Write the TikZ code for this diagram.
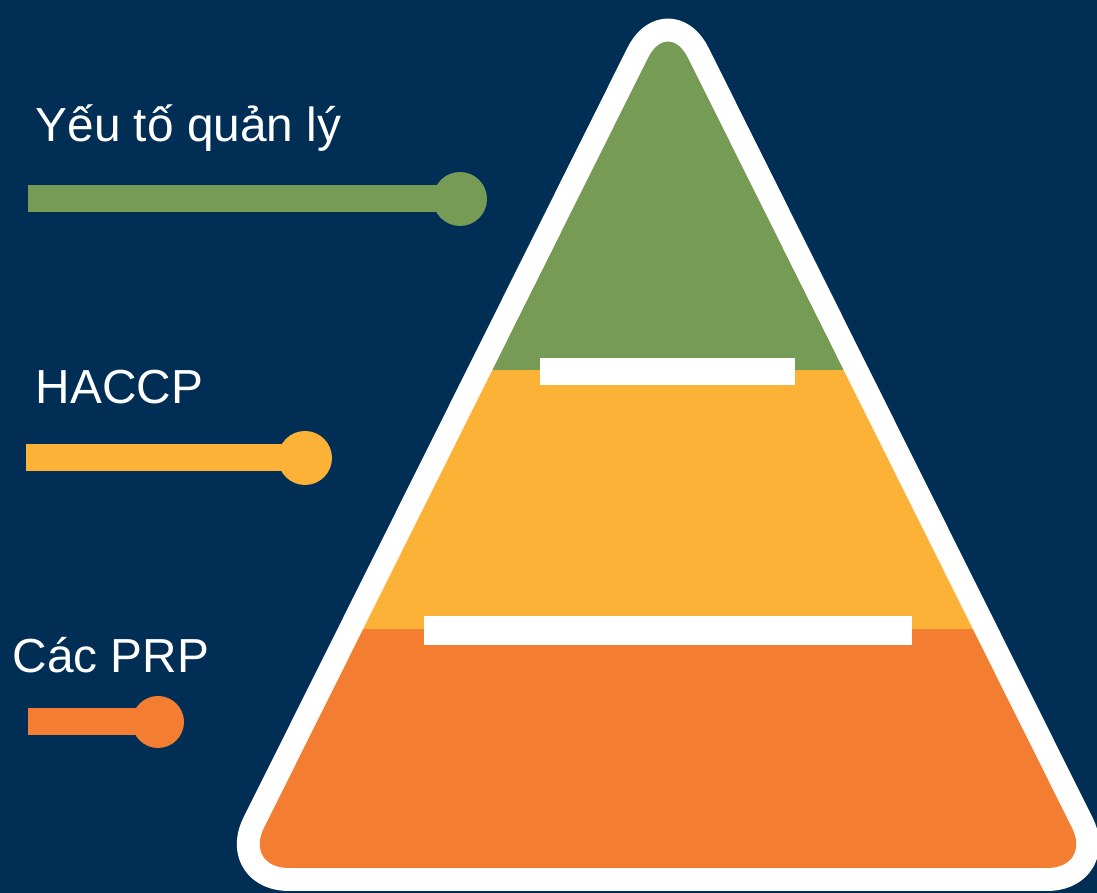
\documentclass[tikz,border=0pt]{standalone}
\usepackage{fontspec}
\setmainfont{Liberation Sans}
\definecolor{navy}{HTML}{012E55}
\definecolor{leaf}{HTML}{769B55}
\definecolor{amber}{HTML}{FBB237}
\definecolor{tangerine}{HTML}{F37E31}

\begin{document}
\begin{tikzpicture}[
    label text/.style={text=white, inner sep=0pt, anchor=base west, font=\fontsize{13.6}{16}\selectfont},
    legend bar/.style={line width=2.7mm},
    legend dot/.style={circle, inner sep=0pt, minimum size=5.4mm}
]
    \fill[navy] (0,0) rectangle (10.97,8.93);
    \useasboundingbox (0,0) rectangle (10.97,8.93);
    \coordinate (apex) at (6.68,8.75);
    \coordinate (left) at (2.44,0.25);
    \coordinate (right) at (10.92,0.25);
    \draw[white, line width=4.6mm, line join=round, rounded corners=4.5mm] (apex) -- (right) -- (left) -- cycle;
    \begin{scope}
        \clip[rounded corners=4.5mm] (apex) -- (right) -- (left) -- cycle;
        \fill[tangerine] (2,0) rectangle (11,2.64);
        \fill[amber] (2,2.64) rectangle (11,5.23);
        \fill[leaf] (2,5.23) rectangle (11,9);
    \end{scope}
    \fill[white] (5.40,5.08) rectangle (7.95,5.35);
    \fill[white] (4.24,2.48) rectangle (9.12,2.77);

    \node[label text] (mgmt) at (0.35,7.51) {Yếu tố quản lý};
    \node[label text] (haccp) at (0.35,4.89) {HACCP};
    \node[label text] (prp) at (0.12,2.20) {Các PRP};

    \coordinate (mgmt start) at (0.28,6.94);
    \coordinate (haccp start) at (0.26,4.35);
    \coordinate (prp start) at (0.28,1.71);
    \node[legend dot, fill=leaf] (mgmt dot) at (4.60,6.94) {};
    \node[legend dot, fill=amber] (haccp dot) at (3.05,4.35) {};
    \node[legend dot, fill=tangerine, minimum size=5.2mm] (prp dot) at (1.58,1.71) {};
    \draw[legend bar, leaf] (mgmt start) -- (mgmt dot.center);
    \draw[legend bar, amber] (haccp start) -- (haccp dot.center);
    \draw[legend bar, tangerine] (prp start) -- (prp dot.center);
\end{tikzpicture}
\end{document}
